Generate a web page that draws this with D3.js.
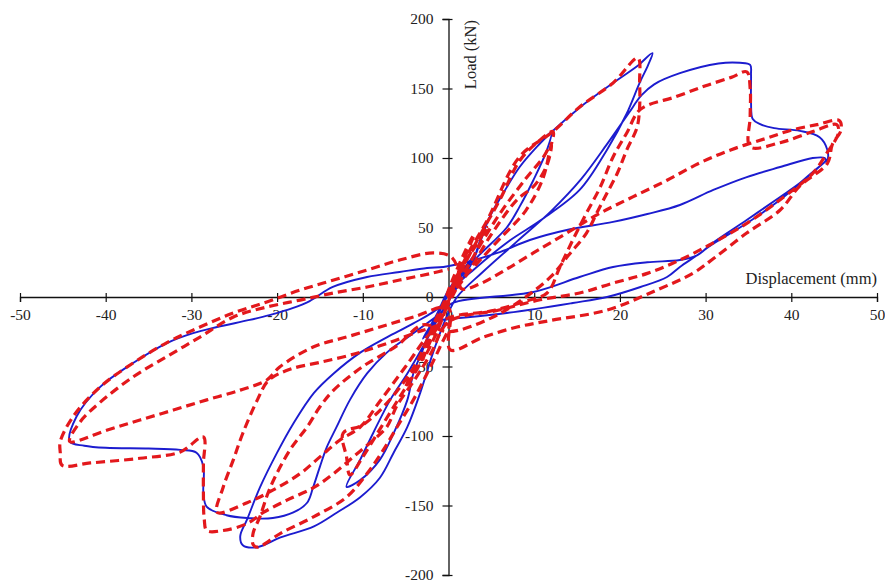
<!DOCTYPE html>
<html><head><meta charset="utf-8">
<script src="https://cdn.jsdelivr.net/npm/d3@7"></script>
<style>body{margin:0;background:#fff}svg{display:block}text{font-family:"Liberation Serif","Times New Roman",serif;fill:#222}</style>
</head><body><svg id="c" width="885" height="583"></svg>
<script>
const xTicks=[-50,-40,-30,-20,-10,0,10,20,30,40,50];
const yTicks=[-200,-150,-100,-50,0,50,100,150,200];
const xLabel="Displacement (mm)", yLabel="Load (kN)";
// Specimen 1 (blue, solid) [displacement mm, load kN]
const blueData=[[0,0],[1,10],[2,22],[1.5,18],[0,3],[-1,-10],[-2,-22],[-1.5,-18],[0,-3],[1.5,15],[3,30],[2,22],[0,5],[-1.5,-14],[-3,-30],[-2,-22],[0,-3],
[1.5,12],[2.9,26.6],[3.7,41],[4.8,57.5],[6.4,74.8],[8.3,93.5],[10.3,108],[12,118.5],[11.5,106],[9.9,84],[8.3,65],[6.8,50],[3.1,27],[0.8,9],[-1,-9],
[-3,-38],[-4.1,-55],[-4.8,-74],[-6.4,-98],[-8,-117],[-10.3,-131.7],[-11.9,-136.5],[-10.3,-117],[-8.8,-98],[-6.8,-74],[-4.8,-55],[-3,-36],[-1.3,-16.5],[0,-3],
[1.5,12],[2.9,26.6],[4.8,57.5],[6.4,74.8],[8.3,93.5],[10.3,108],[12,118.5],[15.4,136.7],[19.7,156.1],[22,166],[23.8,175.5],[23.3,167],[22.3,154],[20.8,132],[18.5,106],[15.3,77],[10.7,55],[7,40],[3,20],[0,3],[-1,-7],
[-4.1,-19],[-7.2,-29],[-10.3,-40],[-13.4,-55],[-15.7,-69],[-18.1,-91],[-20,-112],[-22,-137],[-23.5,-160],[-24.3,-172],[-24,-178.6],[-22.3,-180],[-19.6,-173],[-15.7,-165],[-13,-155],[-10.3,-144],[-8,-130],[-6.4,-112],[-4.8,-93.5],[-3.3,-69],[-1.8,-40],[-0.2,-14],[1,0],
[4,18],[8,40],[12,62],[15.5,85],[18.5,110],[21,132],[22.5,145],[24,153],[27,161],[31.5,168],[34,168.5],[35.2,167],[35.3,160],[35.3,140],[35.5,128],[36.3,124.5],[38,121.5],[41,119.5],[43.3,115],[44.2,106],[44.2,98.5],[43.9,97],
[42.5,90],[41,82],[38.7,72],[34.8,55.4],[30.8,38.8],[29,30],[27,26.6],[23.2,25],[19.2,21.6],[15.3,14.4],[9.9,3.6],[0.5,-4.3],[-1,-12],
[-4.1,-26],[-7.2,-40],[-9.5,-55],[-11.5,-74],[-13.1,-94],[-14.2,-108],[-15,-122],[-15.8,-137],[-16.5,-148],[-18.1,-155],[-20.5,-159],[-23.5,-159],[-25.9,-157],[-28.2,-151],[-28.6,-141],[-28.6,-122],[-29.4,-112],[-31.3,-110],[-35,-109],[-40,-108.5],[-42.5,-107],[-44.2,-104],
[-43.4,-86],[-40.7,-65],[-36.8,-47.5],[-32.8,-33],[-29.8,-26],[-27,-21.6],[-23.2,-16.5],[-20.9,-13],[-18.2,-8],[-16.2,-2.9],[-13.5,7.2],[-9.5,14.4],[-5.7,18],[-2.5,20.9],[-0.6,21.6],[2,25],
[5.7,31.7],[9.5,41],[13.8,48.2],[19.2,54],[23.2,59.7],[27,66.2],[30.9,77],[34.8,86.3],[38.7,93.5],[42.5,100],[43.9,100],[44,98],
[43.5,95],[42,87],[38.7,70],[34.8,53],[30.8,38],[29,30],[27,21.6],[25.5,14.4],[22.4,7.2],[18.5,0],[14.5,-4.3],[6.8,-11.5],[-1,-16.5]];
// Specimen 2 (red, dashed) [displacement mm, load kN]
const redData=[[0,0],[1,15],[2,30],[3,45],[2.5,40],[1,20],[0,5],[-1,-15],[-2,-30],[-3,-45],[-2.5,-40],[-1,-20],[0,-3],[1.5,20],[3.5,40],[4.5,50],[3,30],[0.5,5],[-1.5,-20],[-3.5,-50],[-5,-65],[-3.5,-45],[-1,-10],[0,0],
[2,25],[4,48],[6,70],[8.3,98],[10.5,112],[12.2,119],[11.8,105],[11,85],[9,62],[6,42],[3,22],[0,2],
[-2,-25],[-4,-50],[-7,-75],[-10,-92],[-12.3,-98],[-11.9,-115],[-11.5,-128],[-10,-115],[-8,-95],[-6,-75],[-4,-55],[-2,-30],[0,-5],
[3,30],[6,60],[9,85],[11,100],[12,110],[11.5,95],[10,80],[8,70],[5,45],[2,15],[0,0],
[2,28],[4.5,55],[8.3,101],[12.2,119],[15.3,136.7],[19.2,154],[22.1,172],[22.3,154],[22.3,136.7],[22,122],[20.8,105.8],[19.7,89],[18.5,74.8],[17.3,60.4],[16.1,46],[14,30],[12,15],[9,0],[5,-15],[0,-25],
[-3,-20],[-6,-35],[-10,-50],[-13.4,-67],[-15,-79],[-16.5,-93.5],[-18.5,-110],[-20.8,-137],[-22,-158],[-22.8,-170],[-22.8,-178],[-22.3,-180],[-19.6,-170],[-15.7,-158],[-11.9,-144],[-9.5,-127],[-7.6,-110],[-6,-93.5],[-4.1,-74],[-2.5,-55],[-1,-36],[0,-20],
[-3,-24],[-7,-33],[-11,-41],[-15,-47],[-18.5,-52],[-21,-60],[-22.3,-74],[-24,-98],[-25.1,-117],[-26.3,-137],[-27,-155],[-23.5,-148],[-20.5,-139],[-17.3,-127],[-15,-115],[-12.7,-103],[-10.3,-93.5],[-8,-75],[-5,-50],[-2,-25],[0,-15],
[5,-10],[9,-3],[11.5,2.9],[13,21.6],[14.5,41],[16.1,60.4],[17.7,79],[19.2,100.7],[20.8,118],[22.4,135],[26.5,144],[30,152],[33,158],[34.8,162],[35.2,150],[35.2,130],[35.2,108],[38.7,111],[42.5,119],[45.3,124],[45.5,118],[44.2,104],
[42.5,89],[38.7,70],[34.8,53],[30.9,39],[27,26.6],[23.2,17],[19.2,10],[15.3,2.9],[10.7,-2],[5.9,-9.4],[0,-18],
[-2,-40],[-4,-60],[-6,-78],[-7.2,-93.5],[-8.8,-103],[-11.1,-115],[-13.4,-127],[-15.7,-137],[-18.8,-146],[-21.6,-155],[-23.5,-163],[-26.3,-168],[-28.2,-168],[-28.5,-160],[-28.6,-140],[-28.6,-120],[-28.6,-100.7],[-31.3,-111.5],[-36,-116],[-41.8,-119.4],[-45.1,-121],[-45.3,-112],[-45.3,-104],
[-43.8,-86],[-40.7,-65],[-36.8,-47.5],[-32.9,-33],[-29,-21.6],[-25.1,-11.5],[-21.2,-3.6],[-17.3,5],[-13.4,12.2],[-9.5,19.4],[-5.7,26.6],[-1.8,31.7],[0.3,29],[1.2,18],[1.5,6],
[3.5,9],[6.5,19],[9.9,31.7],[13.8,46],[17.7,60.4],[21.5,72],[25.5,84],[29.3,96.4],[33,106],[37,114],[40,120],[43,124],[45.6,127],[45.8,120],[44.8,110],[44.2,96],[41,80],[38.7,62.6],[34.8,46],[31,28],[28.5,17],[24.3,5],[18.5,-9.4],[11.8,-17],[8,-21.6],[4,-29],[0.2,-38],
[0,-8],[-4.1,-14.4],[-8,-21.6],[-11.9,-28.8],[-15.8,-36],[-19.7,-50.4],[-21.2,-59.7],[-24.3,-67],[-28.2,-74],[-32.1,-81.3],[-36,-88.5],[-39.8,-95.7],[-44.2,-104],[-43,-90],[-40.7,-76],[-36.8,-57.5],[-32.9,-43],[-29,-28.8],[-25.1,-14.4],[-21.2,-7.2],[-17.3,-2.2],[-13.4,2.9],[-9.5,7.2],[-5.7,12.2],[-1.8,17.3],[0,20]];

const svg=d3.select("#c");
const x=d3.scaleLinear().domain([-50,50]).range([20,877]);
const y=d3.scaleLinear().domain([-200,200]).range([575,19]);
const gx=svg.append("g").attr("transform",`translate(0,${y(0)})`);
const gy=svg.append("g").attr("transform",`translate(${x(0)},0)`);
gx.call(d3.axisBottom(x).tickValues(d3.range(-45,50,10)).tickSize(4).tickFormat(""));
gx.call(d3.axisBottom(x).tickValues(xTicks).tickSize(5).tickPadding(6).tickFormat(d=>d));
gy.call(d3.axisLeft(y).tickValues(d3.range(-190,200,10).filter(v=>v%50)).tickSize(3).tickFormat(""));
gy.call(d3.axisLeft(y).tickValues(yTicks).tickSize(6).tickPadding(9).tickFormat(d=>d));
svg.selectAll(".domain").attr("stroke","#111").attr("stroke-width",1.3);
svg.selectAll(".tick line").attr("stroke","#111").attr("stroke-width",1.2);
gx.selectAll(".tick line").filter(d=>d%10===0).attr("y1",-4);
gy.selectAll(".tick line").filter(d=>d%50===0).attr("x1",4);
svg.selectAll(".tick text").attr("font-size",15.5).attr("font-family","Liberation Serif").attr("fill","#333");
gx.selectAll(".tick text").attr("dy","0.75em");
svg.append("text").attr("x",877).attr("y",284).attr("text-anchor","end").attr("font-size",16.5).text(xLabel);
svg.append("text").attr("transform","translate(476,20) rotate(-90)").attr("text-anchor","end").attr("font-size",16.5).text(yLabel);

const line=d3.line().x(d=>x(d[0])).y(d=>y(d[1])).curve(d3.curveCatmullRom.alpha(0.5));
svg.append("path").datum(blueData).attr("d",line).attr("fill","none").attr("stroke","#1c1ccf").attr("stroke-width",1.9);
svg.append("path").datum(redData).attr("d",line).attr("fill","none").attr("stroke","#e3181c").attr("stroke-width",3.2).attr("stroke-dasharray","9,5");
</script></body></html>
